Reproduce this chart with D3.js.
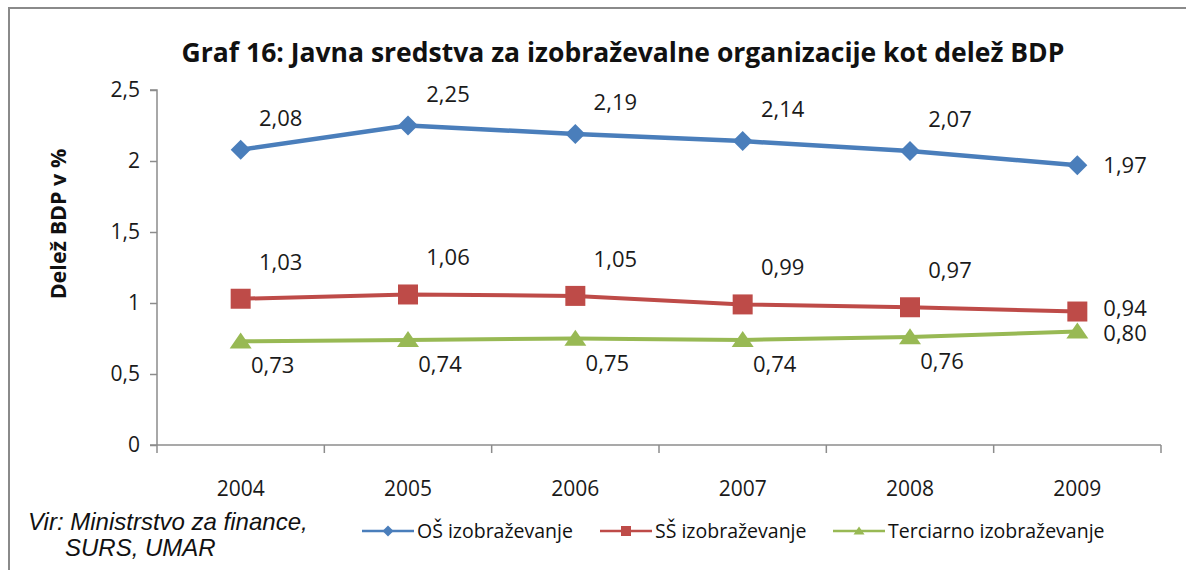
<!DOCTYPE html>
<html>
<head>
<meta charset="utf-8">
<script src="https://cdn.jsdelivr.net/npm/d3@7"></script>
<style>
  html, body { margin: 0; padding: 0; background: #fff; }
  svg { display: block; }
  .lbl { font-family: "Open Sans", sans-serif; font-size: 22px; fill: #1a1a1a; }
  .axis text { font-family: "Open Sans", sans-serif; font-size: 21px; fill: #1a1a1a; }
  .axis path, .axis line { stroke: #8c8c8c; stroke-width: 1.5px; }
</style>
</head>
<body>
<div id="vis"></div>
<script>

var years = ['2004', '2005', '2006', '2007', '2008', '2009'];
var osValues = [2.08, 2.25, 2.19, 2.14, 2.07, 1.97];
var ssValues = [1.03, 1.06, 1.05, 0.99, 0.97, 0.94];
var terValues = [0.73, 0.74, 0.75, 0.74, 0.76, 0.80];
var yTicks = [0, 0.5, 1, 1.5, 2, 2.5];

var seriesNames = ['OŠ izobraževanje', 'SŠ izobraževanje', 'Terciarno izobraževanje'];

var width = 1186;
var height = 570;

var locale = d3.formatLocale({ decimal: ',', thousands: '.', grouping: [3], currency: ['', ' €'] });
var tickFmt = locale.format('.1~f');
var valFmt = locale.format('.2f');

// label placement per series: offset of the label from its point
var series = [
  { name: seriesNames[0], values: osValues, color: '#4a7ebb', width: 4.5, marker: 'diamond', dx: 40, dy: -24 },
  { name: seriesNames[1], values: ssValues, color: '#be4b48', width: 4, marker: 'square', dx: 40, dy: -29 },
  { name: seriesNames[2], values: terValues, color: '#98b954', width: 4, marker: 'triangle', dx: 32, dy: 32 }
];

var svg = d3.select('#vis').append('svg')
  .attr('width', width)
  .attr('height', height);

// outer frame (only top and left edges visible in the crop)
svg.append('path')
  .attr('d', 'M9,' + height + 'V8H' + width)
  .attr('fill', 'none')
  .attr('stroke', '#8a8a8a')
  .attr('stroke-width', 2);

var x = d3.scaleBand()
  .domain(years)
  .range([157, 1161]);

var y = d3.scaleLinear()
  .domain([0, 2.5])
  .range([445, 90]);

function px(d) { return x(d) + x.bandwidth() / 2; }

// title
svg.append('text')
  .attr('x', 623)
  .attr('y', 62)
  .attr('text-anchor', 'middle')
  .style('font-family', '"Open Sans", sans-serif')
  .style('font-weight', 'bold')
  .style('font-size', '26.5px')
  .style('fill', '#111')
  .text('Graf 16: Javna sredstva za izobraževalne organizacije kot delež BDP');

// y axis
var yAxis = svg.append('g')
  .attr('class', 'axis')
  .attr('transform', 'translate(157,0)')
  .call(d3.axisLeft(y).tickValues(yTicks).tickSize(7).tickPadding(10).tickFormat(tickFmt));
yAxis.select('.domain').attr('d', 'M-7,' + y(2.5) + 'H0V' + y(0));

// x axis: labels at category centres, ticks at category boundaries
var xAxis = svg.append('g')
  .attr('class', 'axis')
  .attr('transform', 'translate(0,445)')
  .call(d3.axisBottom(x).tickSize(0).tickPadding(36));
xAxis.select('.domain').attr('d', 'M' + (157 - 7) + ',0H1161');
xAxis.selectAll('.bound')
  .data(years.map(function (d) { return x(d); }).concat([x.range()[1]]))
  .enter().append('line')
  .attr('class', 'bound')
  .attr('x1', function (d) { return d; })
  .attr('x2', function (d) { return d; })
  .attr('y1', 0)
  .attr('y2', 8);

svg.append('text')
  .attr('transform', 'translate(66,224) rotate(-90)')
  .attr('text-anchor', 'middle')
  .style('font-family', '"Open Sans", sans-serif')
  .style('font-weight', 'bold')
  .style('font-size', '21.5px')
  .style('fill', '#111')
  .text('Delež BDP v %');

function markerPath(type, s) {
  if (type === 'diamond') return 'M0,' + -s + 'L' + s + ',0L0,' + s + 'L' + -s + ',0Z';
  if (type === 'square') return 'M' + -s + ',' + -s + 'H' + s + 'V' + s + 'H' + -s + 'Z';
  var h = s * 1.6;
  return 'M0,' + (-h * 0.55) + 'L' + s * 1.1 + ',' + h * 0.45 + 'H' + -s * 1.1 + 'Z';
}

var line = d3.line()
  .x(function (d, i) { return px(years[i]); })
  .y(function (d) { return y(d); });

series.forEach(function (s) {
  var g = svg.append('g');
  g.append('path')
    .attr('d', line(s.values))
    .attr('fill', 'none')
    .attr('stroke', s.color)
    .attr('stroke-width', s.width)
    .attr('stroke-linejoin', 'round');

  g.selectAll('.mk')
    .data(s.values)
    .enter().append('path')
    .attr('class', 'mk')
    .attr('transform', function (d, i) { return 'translate(' + px(years[i]) + ',' + y(d) + ')'; })
    .attr('d', markerPath(s.marker, 10))
    .attr('fill', s.color);

  g.selectAll('.lbl')
    .data(s.values)
    .enter().append('text')
    .attr('class', 'lbl')
    .attr('x', function (d, i) { return i === years.length - 1 ? px(years[i]) + 26 : px(years[i]) + s.dx; })
    .attr('y', function (d, i) {
      if (i !== years.length - 1) return y(d) + s.dy;
      // end labels: nudge the two close ones apart a little
      return y(d) + 8 + (s.marker === 'square' ? -4 : s.marker === 'triangle' ? 2 : 0);
    })
    .attr('text-anchor', function (d, i) { return i === years.length - 1 ? 'start' : 'middle'; })
    .text(function (d) { return valFmt(d); });
});

// source note
var src = svg.append('text')
  .style('font-family', '"Liberation Sans", Arial, sans-serif')
  .style('font-style', 'italic')
  .style('font-size', '24px')
  .style('fill', '#111');
src.append('tspan').attr('x', 28).attr('y', 530).text('Vir: Ministrstvo za finance,');
src.append('tspan').attr('x', 65).attr('y', 556).text('SURS, UMAR');

// legend
var legendX = [362, 600, 833];
var legend = svg.selectAll('.legend')
  .data(series)
  .enter().append('g')
  .attr('class', 'legend')
  .attr('transform', function (d, i) { return 'translate(' + legendX[i] + ',531)'; });

legend.append('line')
  .attr('x1', 0).attr('x2', 52)
  .attr('stroke', function (d) { return d.color; })
  .attr('stroke-width', 2.5);
legend.append('path')
  .attr('transform', 'translate(26,0)')
  .attr('d', function (d) { return markerPath(d.marker, d.marker === 'diamond' ? 5.5 : 5); })
  .attr('fill', function (d) { return d.color; });
legend.append('text')
  .attr('x', 55)
  .attr('y', 7)
  .style('font-family', '"Open Sans", sans-serif')
  .style('font-size', '19.5px')
  .style('fill', '#111')
  .text(function (d) { return d.name; });

</script>
</body>
</html>
